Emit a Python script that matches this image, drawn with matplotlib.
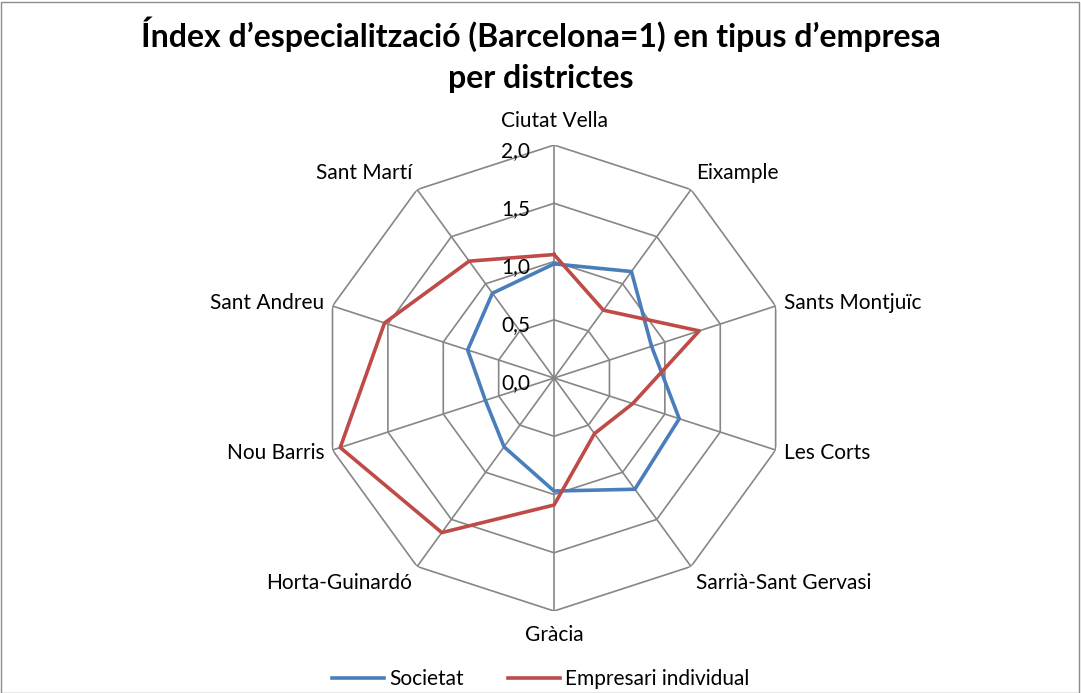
import numpy as np
import matplotlib
matplotlib.use("Agg")
import matplotlib.pyplot as plt
from matplotlib.patches import Rectangle

plt.rcParams['font.family'] = ['Lato', 'DejaVu Sans']

# districtes i valors (Barcelona=1)
districtes = ["Ciutat Vella", "Eixample", "Sants Montjuïc", "Les Corts",
              "Sarrià-Sant Gervasi", "Gràcia", "Horta-Guinardó", "Nou Barris",
              "Sant Andreu", "Sant Martí"]
societat = [0.98, 1.13, 0.88, 1.13, 1.18, 0.97, 0.73, 0.62, 0.78, 0.90]
empresari = [1.06, 0.72, 1.31, 0.71, 0.59, 1.09, 1.64, 1.93, 1.53, 1.24]
ticks = [0.0, 0.5, 1.0, 1.5, 2.0]
tick_labels = ["0,0", "0,5", "1,0", "1,5", "2,0"]

n = len(districtes)
theta = np.linspace(0, 2 * np.pi, n, endpoint=False)
theta_c = np.append(theta, theta[0])

fig = plt.figure(figsize=(10.81, 6.93), dpi=100)
fig.patches.append(Rectangle((0.001, 0.0), 0.997, 0.997, transform=fig.transFigure,
                             fill=False, edgecolor="#8c8c8c", lw=1))

ax = fig.add_axes([0.2970, 0.1183, 0.4311, 0.6724], projection="polar")
ax.set_theta_offset(np.pi / 2)
ax.set_theta_direction(-1)
ax.set_ylim(0, 2.0)
ax.grid(False)
ax.spines["polar"].set_visible(False)
ax.set_xticks([])
ax.set_yticks([])
ax.patch.set_alpha(0)

grid_col = "#868686"
for r in ticks[1:]:
    ax.plot(theta_c, [r] * (n + 1), color=grid_col, lw=1.2, zorder=1)
for t in theta:
    ax.plot([t, t], [0, 2.0], color=grid_col, lw=1.2, zorder=1)

ax.plot(theta_c, societat + societat[:1], color="#4a7ebb", lw=2.6, zorder=3,
        label="Societat")
ax.plot(theta_c, empresari + empresari[:1], color="#be4b48", lw=2.6, zorder=3,
        label="Empresari individual")

# etiquetes de l'eix radial
for r, lab in zip(ticks, tick_labels):
    ax.annotate(lab, xy=(0, r), xytext=(-17, -4), textcoords="offset points",
                ha="right", va="center", fontsize=15)

# etiquetes dels districtes
for t, name in zip(theta, districtes):
    s, c = np.sin(t), np.cos(t)
    ha = "left" if s > 0.1 else ("right" if s < -0.1 else "center")
    va = "bottom" if c > 0.5 else ("top" if c < -0.5 else "center")
    off = 10 if abs(c) > 0.9 else 6
    ax.annotate(name, xy=(t, 2.0), xytext=(off * s, off * c), textcoords="offset points",
                ha=ha, va=va, fontsize=15)

fig.text(0.5, 0.976, "Índex d’especialització (Barcelona=1) en tipus d’empresa\nper districtes",
         ha="center", va="top", fontsize=23, fontweight="bold", linespacing=1.5)

fig.legend(loc="lower center", bbox_to_anchor=(0.5, -0.022), ncol=2, frameon=False,
           fontsize=15, handlelength=2.5, columnspacing=2.1, handletextpad=0.25)

fig.savefig("out.png", dpi=100)
